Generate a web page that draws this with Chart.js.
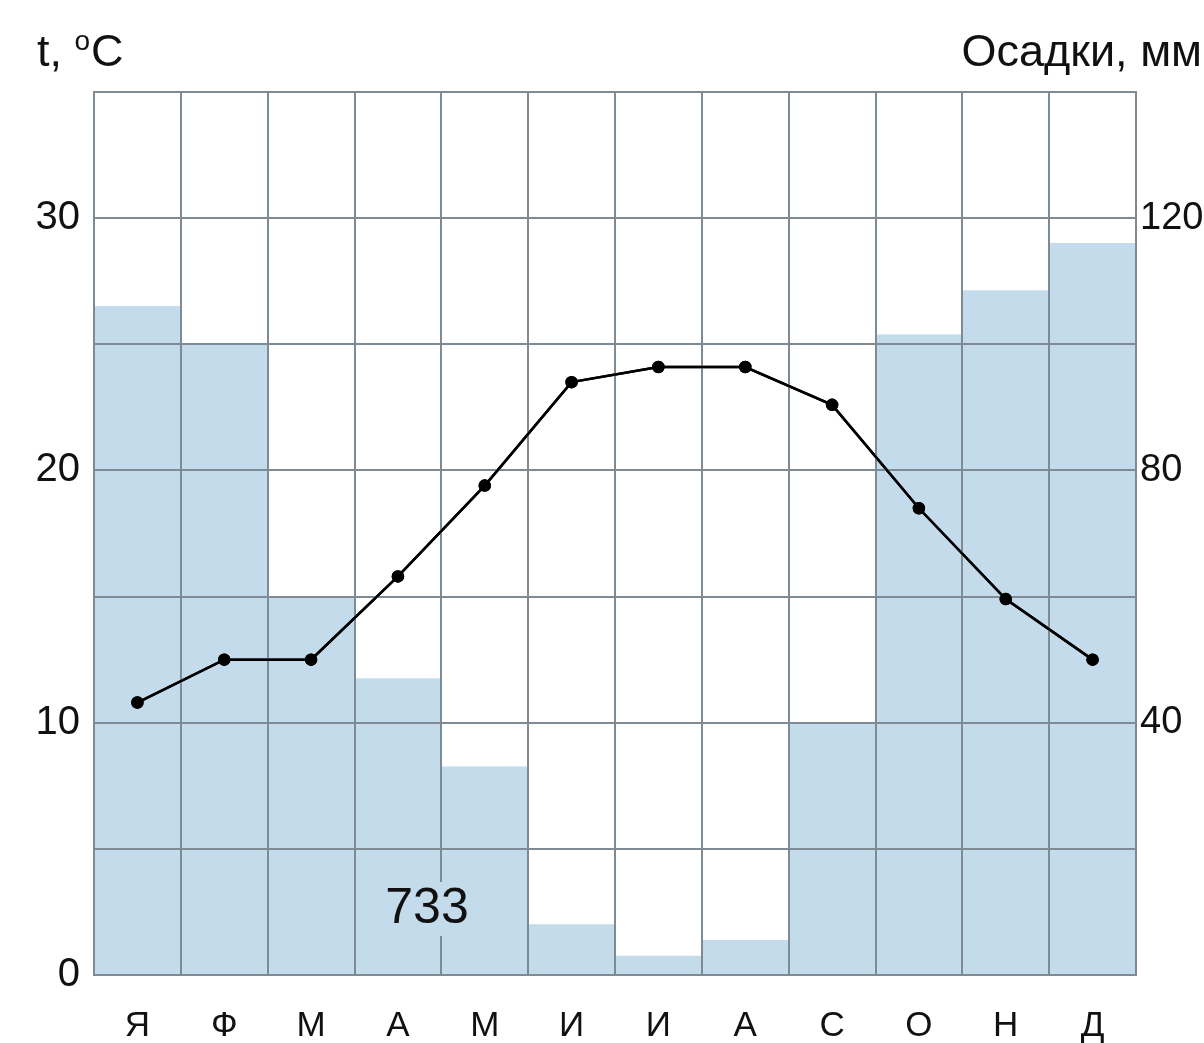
<!DOCTYPE html>
<html>
<head>
<meta charset="utf-8">
<script src="https://cdn.jsdelivr.net/npm/chart.js@4/dist/chart.umd.min.js"></script>
<style>
  html, body { margin: 0; padding: 0; background: #fff; }
  #wrap { width: 1204px; height: 1043px; }
</style>
</head>
<body>
<div id="wrap"><canvas id="climate"></canvas></div>
<script>
const months = ["Я", "Ф", "М", "А", "М", "И", "И", "А", "С", "О", "Н", "Д"];
const precipitation = [106, 100, 60, 47, 33, 8, 3, 5.5, 40, 101.5, 108.5, 116];
const temperature = [10.8, 12.5, 12.5, 15.8, 19.4, 23.5, 24.1, 24.1, 22.6, 18.5, 14.9, 12.5];
const tempTicks = [0, 10, 20, 30];
const precipTicks = [40, 80, 120];
const totalPrecip = "733";

const gridColor = "#7e8b95";
const barColor = "#c3dbea";
const font = "'Liberation Sans', Arial, sans-serif";

const overlay = {
  id: "overlay",
  afterDraw(chart) {
    const ctx = chart.ctx;
    const a = chart.chartArea;
    // line back on top of the grid
    chart.getDatasetMeta(1).controller.draw();

    ctx.save();
    ctx.fillStyle = "#111";
    ctx.textBaseline = "alphabetic";
    ctx.font = "45px " + font;
    ctx.textAlign = "left";
    // "t, °C" with a raised small o
    let x = 37;
    ctx.fillText("t,", x, 66);
    x += ctx.measureText("t, ").width;
    ctx.font = "28px " + font;
    ctx.fillText("o", x, 50);
    x += ctx.measureText("o").width + 1;
    ctx.font = "45px " + font;
    ctx.fillText("C", x, 66);
    ctx.textAlign = "right";
    ctx.fillText("Осадки, мм", 1202, 66);

    // total precipitation label
    ctx.font = "50px " + font;
    ctx.textAlign = "center";
    ctx.textBaseline = "middle";
    const tx = a.left + 333, ty = a.bottom - 66;
    const w = ctx.measureText(totalPrecip).width;
    ctx.fillStyle = barColor;
    ctx.fillRect(tx - w / 2 - 2, ty - 27, w + 4, 54);
    ctx.fillStyle = "#111";
    ctx.fillText(totalPrecip, tx, ty);
    ctx.restore();
  }
};

new Chart(document.getElementById("climate"), {
  data: {
    labels: months,
    datasets: [
      {
        type: "bar",
        data: precipitation,
        yAxisID: "yP",
        backgroundColor: barColor,
        borderWidth: 0,
        barPercentage: 1,
        categoryPercentage: 1,
        order: 2
      },
      {
        type: "line",
        data: temperature,
        yAxisID: "yT",
        borderColor: "#000",
        borderWidth: 2.5,
        pointBackgroundColor: "#000",
        pointBorderColor: "#000",
        pointRadius: 5,
        tension: 0,
        order: 1
      }
    ]
  },
  options: {
    responsive: true,
    maintainAspectRatio: false,
    animation: false,
    layout: { padding: { top: 92, left: 0, right: 0, bottom: 0 } },
    plugins: { legend: { display: false }, tooltip: { enabled: false } },
    scales: {
      x: {
        offset: true,
        grid: { z: 1, offset: true, color: gridColor, lineWidth: 2, drawTicks: false },
        border: { z: 1, color: gridColor, width: 2 },
        ticks: { color: "#111", font: { family: font, size: 35 }, padding: 30 },
        afterFit(s) { s.height = 68; }
      },
      yT: {
        position: "left",
        min: 0,
        max: 35,
        ticks: {
          stepSize: 5,
          color: "#111",
          font: { family: font, size: 40 },
          padding: 14,
          callback: v => tempTicks.includes(v) ? String(v) : ""
        },
        grid: { z: 1, color: gridColor, lineWidth: 2, drawTicks: false },
        border: { z: 1, color: gridColor, width: 2 },
        afterFit(s) { s.width = 94; }
      },
      yP: {
        position: "right",
        min: 0,
        max: 140,
        ticks: {
          stepSize: 20,
          color: "#111",
          font: { family: font, size: 38 },
          padding: 4,
          callback: v => precipTicks.includes(v) ? String(v) : ""
        },
        grid: { display: false, drawTicks: false },
        border: { z: 1, color: gridColor, width: 2 },
        afterFit(s) { s.width = 68; }
      }
    }
  },
  plugins: [overlay]
});
</script>
</body>
</html>
